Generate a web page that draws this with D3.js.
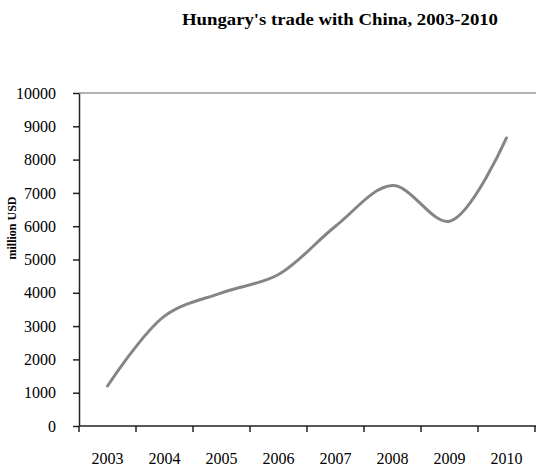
<!DOCTYPE html>
<html>
<head>
<meta charset="utf-8">
<script src="https://cdn.jsdelivr.net/npm/d3@7"></script>
<style>
  body { margin: 0; background: #fff; }
  svg { display: block; }
  text { font-family: "Liberation Serif", "Times New Roman", serif; }
</style>
</head>
<body>
<div id="chart-area"></div>
<script>
const FIGURE = { WIDTH: 536, HEIGHT: 466 };
const PLOT = { LEFT: 79, TOP: 93, RIGHT: 536, BOTTOM: 426 };

// data (million USD)
const years = ["2003", "2004", "2005", "2006", "2007", "2008", "2009", "2010"];
const trade = [1200, 3300, 4000, 4550, 6000, 7220, 6150, 8650];
const yTicks = [0, 1000, 2000, 3000, 4000, 5000, 6000, 7000, 8000, 9000, 10000];

const svg = d3.select("#chart-area")
    .append("svg")
        .attr("width", FIGURE.WIDTH)
        .attr("height", FIGURE.HEIGHT);

let x = d3.scaleBand()
    .domain(years)
    .range([PLOT.LEFT, PLOT.RIGHT - 1]);

let y = d3.scaleLinear()
    .domain([0, 10000])
    .range([PLOT.BOTTOM, PLOT.TOP]);

// title
svg.append("text")
    .attr("x", 340)
    .attr("y", 25)
    .attr("text-anchor", "middle")
    .attr("font-weight", "bold")
    .attr("font-size", 17)
    .attr("textLength", 316)
    .attr("lengthAdjust", "spacingAndGlyphs")
    .text("Hungary's trade with China, 2003-2010");

// top border of plot area
svg.append("line")
    .attr("x1", PLOT.LEFT).attr("x2", FIGURE.WIDTH)
    .attr("y1", y(10000)).attr("y2", y(10000))
    .attr("stroke", "#999")
    .attr("stroke-width", 1.5);

// y axis
let yAxis = d3.axisLeft(y)
    .tickValues(yTicks)
    .tickSize(6)
    .tickSizeOuter(0)
    .tickPadding(17)
    .tickFormat(d3.format("d"));

const gy = svg.append("g")
    .attr("class", "y-axis")
    .attr("transform", `translate(${PLOT.LEFT}, 0)`)
    .call(yAxis);
gy.selectAll("text").attr("font-size", 16).attr("fill", "#000")
    .style("font-family", "'Liberation Serif', serif");
gy.selectAll("line, path").attr("stroke", "#222").attr("stroke-width", 1.5);

// x axis (labels centred in categories, ticks between them)
let xAxis = d3.axisBottom(x)
    .tickSize(0)
    .tickSizeOuter(0)
    .tickPadding(27);

const gx = svg.append("g")
    .attr("class", "x-axis")
    .attr("transform", `translate(0, ${PLOT.BOTTOM})`)
    .call(xAxis);
gx.selectAll("text").attr("font-size", 16).attr("fill", "#000")
    .style("font-family", "'Liberation Serif', serif");
gx.select(".domain").attr("stroke", "#222").attr("stroke-width", 1.5)
    .attr("d", `M${PLOT.LEFT},0H${FIGURE.WIDTH}`);

gx.selectAll(".sep")
    .data(d3.range(years.length + 1))
    .enter()
    .append("line")
        .attr("class", "sep")
        .attr("x1", i => PLOT.LEFT + i * x.step())
        .attr("x2", i => PLOT.LEFT + i * x.step())
        .attr("y1", 0)
        .attr("y2", 6)
        .attr("stroke", "#222")
        .attr("stroke-width", 1.5);

// y axis title
svg.append("text")
    .attr("transform", `translate(16, 228) rotate(-90)`)
    .attr("text-anchor", "middle")
    .attr("font-weight", "bold")
    .attr("font-size", 12)
    .text("million USD");

// series line
const line = d3.line()
    .x((d, i) => x(years[i]) + x.bandwidth() / 2)
    .y(d => y(d))
    .curve(d3.curveCatmullRom.alpha(0.5));

svg.append("path")
    .datum(trade)
    .attr("d", line)
    .attr("fill", "none")
    .attr("stroke", "#858585")
    .attr("stroke-width", 3)
    .attr("stroke-linecap", "round");
</script>
</body>
</html>
